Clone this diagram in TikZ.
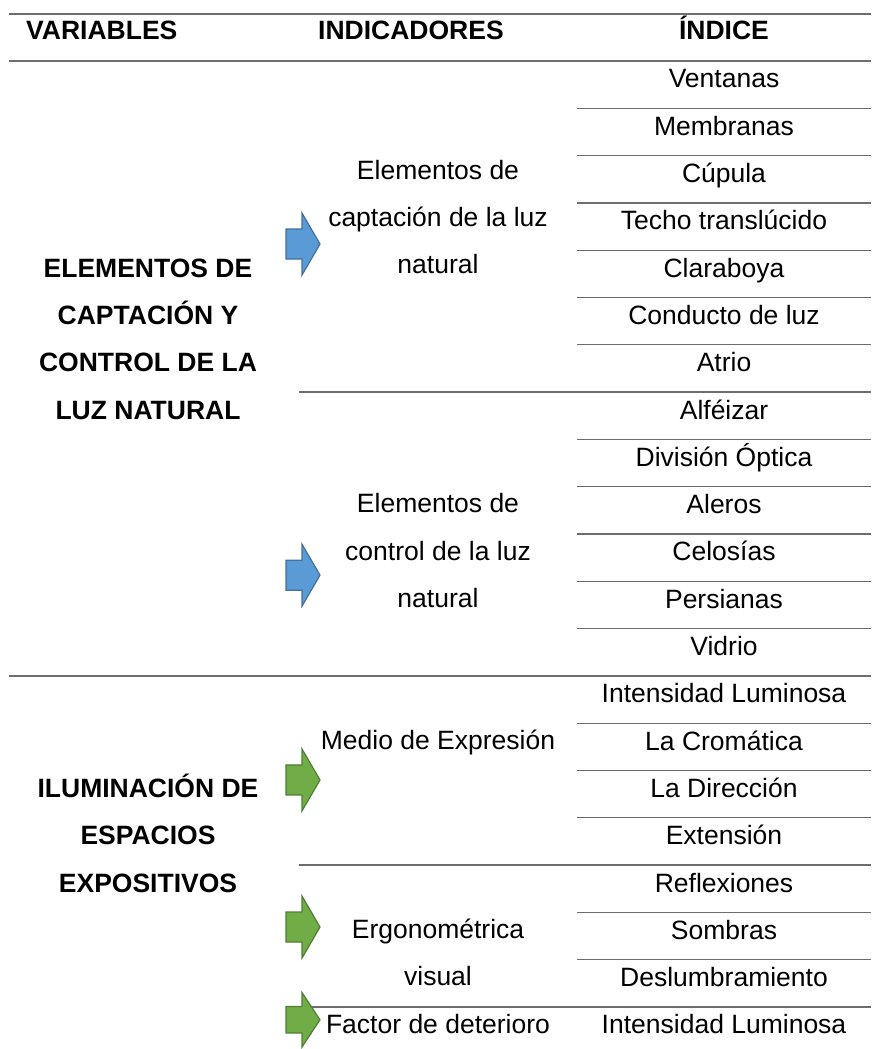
\documentclass[tikz,border=0pt]{standalone}
\usepackage{fontspec}
\setmainfont{Liberation Sans}
\usetikzlibrary{positioning}

\definecolor{rulegray}{HTML}{6D6D6D}
\definecolor{bluefill}{HTML}{5B9BD5}
\definecolor{blueedge}{HTML}{41719C}
\definecolor{greenfill}{HTML}{70AD47}
\definecolor{greenedge}{HTML}{507E32}

\tikzset{
  blockarrow/.pic={
    \path[pic actions] (-17pt,-15pt) -- (-1pt,-15pt) -- (-1pt,-31pt) -- (17pt,0pt)
      -- (-1pt,31pt) -- (-1pt,15pt) -- (-17pt,15pt) -- cycle;
  }
}

\begin{document}
\begin{tikzpicture}[x=1pt,y=-47.3pt,
    every node/.style={inner sep=0pt,anchor=base,font=\fontsize{26.5}{47.3}\selectfont},
    head/.style={font=\fontsize{26.5}{47.3}\selectfont\bfseries},
    var/.style={font=\fontsize{26.5}{47.3}\selectfont\bfseries,align=center},
    ind/.style={align=center},
    thick rule/.style={draw=rulegray,line width=2pt},
    thin rule/.style={draw=rulegray,line width=1.3pt},
    bluearrow/.style={fill=bluefill,draw=blueedge,line width=1.2pt},
    greenarrow/.style={fill=greenfill,draw=greenedge,line width=1.2pt}]

  \useasboundingbox (0,-1.2896) rectangle (871,20.888);

  % header
  \node[head,anchor=base west] (hvar) at (26,-0.46)  {VARIABLES};
  \node[head,anchor=base west] (hind) at (318,-0.46) {INDICADORES};
  \node[head]                  (hidx) at (724,-0.46) {ÍNDICE};

  \draw[thick rule] (9,-1) -- (871,-1)  (9,0) -- (871,0);
  \draw[thin rule]  (9,13) -- (871,13);
  \draw[thin rule]  (299,7) -- (871,7)  (299,17) -- (871,17)  (299,20) -- (871,20);
  \draw[thin rule]  (577,1) -- (871,1)   (577,2) -- (871,2)   (577,3) -- (871,3)
                    (577,4) -- (871,4)   (577,5) -- (871,5)   (577,6) -- (871,6)
                    (577,8) -- (871,8)   (577,9) -- (871,9)   (577,10) -- (871,10)
                    (577,11) -- (871,11) (577,12) -- (871,12)
                    (577,14) -- (871,14) (577,15) -- (871,15) (577,16) -- (871,16)
                    (577,18) -- (871,18) (577,19) -- (871,19);

  % variables (base = last line)
  \node[var] (luz)  at (148,7.57)  {ELEMENTOS DE\\CAPTACIÓN Y\\CONTROL DE LA\\LUZ NATURAL};
  \node[var] (ilum) at (148,17.57) {ILUMINACIÓN DE\\ESPACIOS\\EXPOSITIVOS};

  % indicadores
  \node[ind] (capt)  at (438,4.5)   {Elementos de\\captación de la luz\\natural};
  \node[ind] (ctrl)  at (438,11.55) {Elementos de\\control de la luz\\natural};
  \node[ind] (medio) at (438,14.55) {Medio de Expresión};
  \node[ind] (ergo)  at (438,19.55) {Ergonométrica\\visual};
  \node[ind] (fact)  at (438,20.55) {Factor de deterioro};

  \pic[bluearrow]  at (303,3.87)  {blockarrow};
  \pic[bluearrow]  at (303,10.87) {blockarrow};
  \pic[greenarrow] at (303,15.2)  {blockarrow};
  \pic[greenarrow] at (303,18.31) {blockarrow};
  \pic[greenarrow,yscale=0.88] at (303,20.27) {blockarrow};

  % indices
  \node (i1)  at (724,0.57)  {Ventanas};
  \node (i2)  at (724,1.57)  {Membranas};
  \node (i3)  at (724,2.57)  {Cúpula};
  \node (i4)  at (724,3.57)  {Techo translúcido};
  \node (i5)  at (724,4.57)  {Claraboya};
  \node (i6)  at (724,5.57)  {Conducto de luz};
  \node (i7)  at (724,6.57)  {Atrio};
  \node (i8)  at (724,7.57)  {Alféizar};
  \node (i9)  at (724,8.57)  {División Óptica};
  \node (i10) at (724,9.57)  {Aleros};
  \node (i11) at (724,10.57) {Celosías};
  \node (i12) at (724,11.57) {Persianas};
  \node (i13) at (724,12.57) {Vidrio};
  \node (i14) at (724,13.57) {Intensidad Luminosa};
  \node (i15) at (724,14.57) {La Cromática};
  \node (i16) at (724,15.57) {La Dirección};
  \node (i17) at (724,16.57) {Extensión};
  \node (i18) at (724,17.57) {Reflexiones};
  \node (i19) at (724,18.57) {Sombras};
  \node (i20) at (724,19.57) {Deslumbramiento};
  \node (i21) at (724,20.57) {Intensidad Luminosa};

\end{tikzpicture}
\end{document}
